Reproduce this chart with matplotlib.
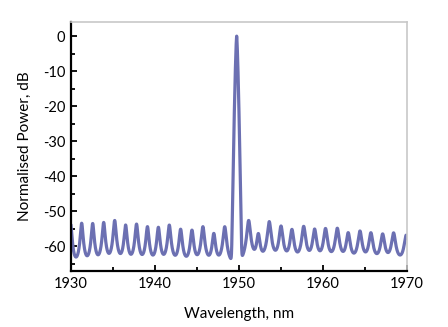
import numpy as np
import matplotlib
matplotlib.use("Agg")
import matplotlib.pyplot as plt
from matplotlib.ticker import MultipleLocator

plt.rcParams["axes.unicode_minus"] = False

# Side-mode comb: line centres (nm) and their peak levels (dB)
comb_nm = [1929.96, 1931.27, 1932.58, 1933.89, 1935.20, 1936.50, 1937.80,
           1939.10, 1940.40, 1941.70, 1943.05, 1944.40, 1945.70, 1947.00,
           1948.30, 1951.15, 1952.30, 1953.60, 1955.00, 1956.30, 1957.70,
           1959.00, 1960.30, 1961.70, 1963.00, 1964.40, 1965.70, 1967.10,
           1968.40, 1969.90]
comb_db = [-54.0, -53.7, -53.8, -53.5, -52.9, -54.3, -54.0,
           -54.8, -55.0, -54.3, -55.6, -55.9, -54.8, -57.0,
           -54.8, -52.9, -57.3, -53.3, -54.7, -55.8, -54.8,
           -55.7, -55.5, -55.4, -56.9, -56.3, -56.9, -57.3,
           -56.9, -57.6]

# Comb line half-width (nm), which grows towards long wavelengths
width_nm = [1930.0, 1970.0]
width_val = [0.13, 0.21]

# Background level under the comb (dB)
floor_nm = [1930.0, 1970.0]
floor_db = [-69.0, -66.0]

# Lasing line
main_nm = 1949.72
main_db = 0.0

wl = np.linspace(1930, 1970, 6000)
lin = 10 ** (np.interp(wl, floor_nm, floor_db) / 10)
for c, h in zip(comb_nm, comb_db):
    w = np.interp(c, width_nm, width_val)
    lin += 10 ** (h / 10) / (1 + ((wl - c) / w) ** 2)
main_shape_db = main_db - 131 * np.abs(wl - main_nm) ** 1.4
lin += 10 ** (main_shape_db / 10)
power_db = 10 * np.log10(lin)

fig = plt.figure(figsize=(4.48, 3.27), dpi=100)
ax = fig.add_axes([0.1585, 0.1713, 0.75, 0.7614])

ax.plot(wl, power_db, color="#6c70b2", lw=2.3, solid_joinstyle="round")

ax.set_xlim(1930, 1970)
ax.set_ylim(-67.1, 4.0)
ax.xaxis.set_major_locator(MultipleLocator(10))
ax.xaxis.set_minor_locator(MultipleLocator(5))
ax.yaxis.set_major_locator(MultipleLocator(10))
ax.yaxis.set_minor_locator(MultipleLocator(5))

font = "Lato"
ax.tick_params(which="both", direction="in", top=False, right=False,
               width=1.3, colors="black")
ax.tick_params(which="major", length=4.5, labelsize=10.5, pad=4)
ax.tick_params(which="minor", length=3)
for lab in ax.get_xticklabels() + ax.get_yticklabels():
    lab.set_fontfamily(font)

for side in ("left", "bottom"):
    ax.spines[side].set_linewidth(1.6)
    ax.spines[side].set_color("black")
for side in ("top", "right"):
    ax.spines[side].set_linewidth(1.2)
    ax.spines[side].set_color("#c8c8c8")

ax.set_xlabel("Wavelength, nm", fontsize=11, family=font, labelpad=12)
ax.set_ylabel("Normalised Power, dB", fontsize=11, family=font, labelpad=8)

fig.savefig("out.png", dpi=100)
